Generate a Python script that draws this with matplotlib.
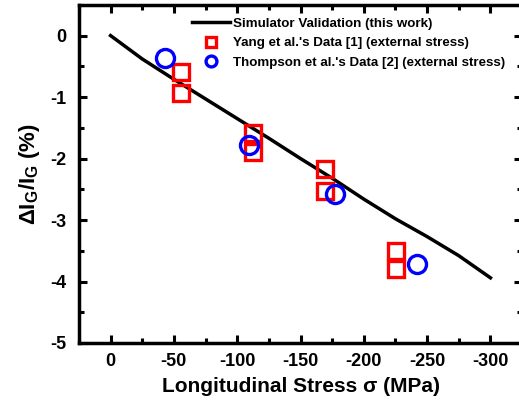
import numpy as np
import matplotlib.pyplot as plt
from matplotlib.ticker import MultipleLocator

plt.rcParams['font.family'] = ['Liberation Sans', 'DejaVu Sans']
plt.rcParams['mathtext.fontset'] = 'custom'
plt.rcParams['mathtext.rm'] = 'Liberation Sans:bold'
plt.rcParams['mathtext.bf'] = 'Liberation Sans:bold'
plt.rcParams['axes.unicode_minus'] = False

# simulator curve
sim_x = [0, -25, -50, -75, -100, -125, -150, -175, -200, -225, -250, -275, -300]
sim_y = [0, -0.38, -0.71, -1.03, -1.35, -1.67, -2.0, -2.32, -2.66, -2.98, -3.27, -3.58, -3.94]

# Yang et al. data
yang_x = [-56, -56, -112.5, -112.5, -169.5, -169.5, -225.5, -225.5]
yang_y = [-0.6, -0.93, -1.58, -1.9, -2.17, -2.52, -3.51, -3.79]

# Thompson et al. data
thom_x = [-43, -109, -177, -242]
thom_y = [-0.37, -1.78, -2.58, -3.72]

fig = plt.figure(figsize=(5.19, 4.04), dpi=100)
ax = fig.add_axes([0.152, 0.151, 0.854, 0.837])

ax.plot(sim_x, sim_y, color='black', lw=2.5, label='Simulator Validation (this work)')
ax.plot(yang_x, yang_y, ls='none', marker='s', ms=11, mew=2.4, mfc='none', mec='#ff0000',
        label="Yang et al.'s Data [1] (external stress)")
ax.plot(thom_x, thom_y, ls='none', marker='o', ms=13, mew=2.4, mfc='none', mec='#0000ff',
        label="Thompson et al.'s Data [2] (external stress)")

ax.set_xlim(25, -325)
ax.set_ylim(-5, 0.5)
ax.xaxis.set_minor_locator(MultipleLocator(25))
ax.yaxis.set_major_locator(MultipleLocator(1))
ax.yaxis.set_minor_locator(MultipleLocator(0.5))
ax.set_xticks([0, -50, -100, -150, -200, -250, -300])
ax.tick_params(which='both', direction='in', top=True, right=True, width=2.2)
ax.tick_params(which='major', length=6, labelsize=13)
ax.tick_params(axis='x', which='major', pad=7)
ax.tick_params(axis='y', which='major', pad=9)
ax.tick_params(which='minor', length=3.5)
for lab in ax.get_xticklabels() + ax.get_yticklabels():
    lab.set_fontweight('bold')
for s in ax.spines.values():
    s.set_linewidth(2.5)

ax.set_xlabel('Longitudinal Stress σ (MPa)', fontsize=15, fontweight='bold', labelpad=5)
ax.set_ylabel(r'ΔI$_\mathrm{G}$/I$_\mathrm{G}$ (%)', fontsize=16, fontweight='bold', labelpad=6)

leg = ax.legend(loc='upper right', bbox_to_anchor=(0.985, 0.995), frameon=False, markerscale=0.6,
                prop={'weight': 'bold', 'size': 9.6}, handlelength=2.85, handletextpad=0.2,
                labelspacing=0.55, borderaxespad=0.4)

fig.savefig('out.png', dpi=100)
